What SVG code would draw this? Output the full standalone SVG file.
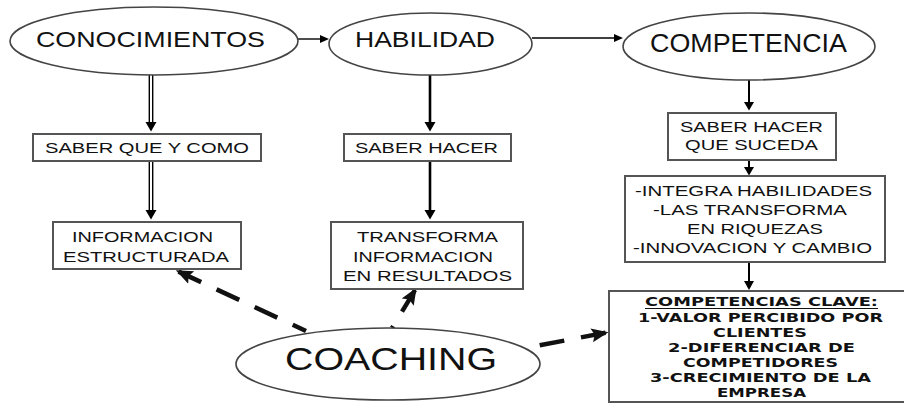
<svg xmlns="http://www.w3.org/2000/svg" width="904" height="404" viewBox="0 0 904 404">
<style>
.ell{fill:#fff;stroke:#444;stroke-width:1.6}
.box{fill:#fff;stroke:#555;stroke-width:2}
.t{font-family:"Liberation Sans",Arial,sans-serif;fill:#111;text-anchor:middle}
.big{font-size:22px}
.sm{font-size:15.5px}
.ck{font-family:"DejaVu Sans","Liberation Sans",sans-serif;font-weight:bold;font-size:13px;fill:#111;text-anchor:middle}
.ln{stroke:#000;fill:none}
.hd{fill:#000}
.dash{stroke:#111;stroke-width:4.5;fill:none;stroke-dasharray:25 17}
</style>
<defs>
<marker id="dh" markerUnits="userSpaceOnUse" markerWidth="20" markerHeight="16" refX="14" refY="7" orient="auto-start-reverse">
<path d="M0,0 L17,7 L0,14 L3,7 z" fill="#111"/>
</marker>
</defs>
<rect width="904" height="404" fill="#fff"/>

<g id="connectors">
<!-- top horizontals -->
<line class="ln" x1="298" y1="39" x2="321" y2="39" stroke-width="1.4"/>
<polygon class="hd" points="320,35 329,39 320,43"/>
<line class="ln" x1="532" y1="38" x2="615" y2="38" stroke-width="1.4"/>
<polygon class="hd" points="614,34 623,38 614,42"/>
<!-- conocimientos double arrows -->
<line class="ln" x1="149.3" y1="75" x2="149.3" y2="123" stroke-width="1.4"/>
<line class="ln" x1="152.7" y1="75" x2="152.7" y2="123" stroke-width="1.4"/>
<polygon class="hd" points="145.5,122 156.5,122 151,131.5"/>
<line class="ln" x1="149.3" y1="162" x2="149.3" y2="211" stroke-width="1.4"/>
<line class="ln" x1="152.7" y1="162" x2="152.7" y2="211" stroke-width="1.4"/>
<polygon class="hd" points="145.5,210 156.5,210 151,219.5"/>
<!-- habilidad arrows -->
<line class="ln" x1="430" y1="75" x2="430" y2="123" stroke-width="2.6"/>
<polygon class="hd" points="424.5,122 435.5,122 430,131.5"/>
<line class="ln" x1="430" y1="162" x2="430" y2="211" stroke-width="2.6"/>
<polygon class="hd" points="424.5,210 435.5,210 430,219.5"/>
<!-- competencia arrows -->
<line class="ln" x1="749" y1="80" x2="749" y2="103" stroke-width="2"/>
<polygon class="hd" points="744,102 754,102 749,110.5"/>
<line class="ln" x1="749" y1="160" x2="749" y2="168" stroke-width="2"/>
<polygon class="hd" points="744,167 754,167 749,175.5"/>
<line class="ln" x1="749" y1="262" x2="749" y2="282" stroke-width="2"/>
<polygon class="hd" points="744,281 754,281 749,290"/>
<!-- coaching dashed arrows -->
<path class="dash" d="M178.5,271.6 L306,331" marker-start="url(#dh)"/>
<path class="dash" d="M415,290.2 L392,328" marker-start="url(#dh)" stroke-dasharray="20 13"/>
<path class="dash" d="M605.5,332.7 L531,347" marker-start="url(#dh)" stroke-dasharray="35 17"/>
</g>

<g id="node-conocimientos">
<ellipse class="ell" cx="154" cy="41" rx="144" ry="34"/>
<text class="t big" x="150.5" y="47" textLength="229" lengthAdjust="spacingAndGlyphs">CONOCIMIENTOS</text>
</g>
<g id="node-habilidad">
<ellipse class="ell" cx="430.5" cy="44" rx="101.5" ry="31"/>
<text class="t big" x="425" y="47" textLength="140" lengthAdjust="spacingAndGlyphs">HABILIDAD</text>
</g>
<g id="node-competencia">
<ellipse class="ell" cx="749" cy="46.5" rx="126" ry="33.5"/>
<text class="t" x="748.5" y="52" font-size="25" textLength="197" lengthAdjust="spacingAndGlyphs">COMPETENCIA</text>
</g>
<g id="node-saber-que-y-como">
<rect class="box" x="33" y="134" width="228" height="27"/>
<text class="t sm" x="147" y="153" textLength="204" lengthAdjust="spacingAndGlyphs">SABER QUE Y COMO</text>
</g>
<g id="node-saber-hacer">
<rect class="box" x="344" y="134" width="167" height="27"/>
<text class="t sm" x="426.5" y="153" textLength="143" lengthAdjust="spacingAndGlyphs">SABER HACER</text>
</g>
<g id="node-informacion">
<rect class="box" x="53" y="222" width="188" height="47"/>
<text class="t sm" x="142.5" y="242" textLength="141" lengthAdjust="spacingAndGlyphs">INFORMACION</text>
<text class="t sm" x="146" y="262" textLength="166" lengthAdjust="spacingAndGlyphs">ESTRUCTURADA</text>
</g>
<g id="node-transforma">
<rect class="box" x="331" y="222" width="192" height="67"/>
<text class="t sm" x="427.5" y="242" textLength="141" lengthAdjust="spacingAndGlyphs">TRANSFORMA</text>
<text class="t sm" x="423" y="262" textLength="140" lengthAdjust="spacingAndGlyphs">INFORMACION</text>
<text class="t sm" x="427.5" y="281" textLength="169" lengthAdjust="spacingAndGlyphs">EN RESULTADOS</text>
</g>
<g id="node-saber-hacer-que-suceda">
<rect class="box" x="668" y="113" width="168" height="47"/>
<text class="t sm" x="751.5" y="132" textLength="143" lengthAdjust="spacingAndGlyphs">SABER HACER</text>
<text class="t sm" x="751.5" y="150" textLength="133" lengthAdjust="spacingAndGlyphs">QUE SUCEDA</text>
</g>
<g id="node-integra">
<rect class="box" x="625" y="176" width="260" height="86"/>
<text class="t sm" x="753.5" y="196" textLength="237" lengthAdjust="spacingAndGlyphs">-INTEGRA HABILIDADES</text>
<text class="t sm" x="750" y="215" textLength="194" lengthAdjust="spacingAndGlyphs">-LAS TRANSFORMA</text>
<text class="t sm" x="755" y="234" textLength="136" lengthAdjust="spacingAndGlyphs">EN RIQUEZAS</text>
<text class="t sm" x="752.5" y="253" textLength="239" lengthAdjust="spacingAndGlyphs">-INNOVACION Y CAMBIO</text>
</g>
<g id="node-competencias-clave">
<rect class="box" x="609" y="291" width="320" height="111"/>
<text class="ck" x="761.5" y="306" textLength="233" lengthAdjust="spacingAndGlyphs">COMPETENCIAS CLAVE:</text>
<line x1="645" y1="308.5" x2="878" y2="308.5" stroke="#111" stroke-width="1.2"/>
<text class="ck" x="760.5" y="322" textLength="245" lengthAdjust="spacingAndGlyphs">1-VALOR PERCIBIDO POR</text>
<text class="ck" x="760" y="337" textLength="94" lengthAdjust="spacingAndGlyphs">CLIENTES</text>
<text class="ck" x="761.5" y="352" textLength="187" lengthAdjust="spacingAndGlyphs">2-DIFERENCIAR DE</text>
<text class="ck" x="760.5" y="367" textLength="155" lengthAdjust="spacingAndGlyphs">COMPETIDORES</text>
<text class="ck" x="760.5" y="382" textLength="221" lengthAdjust="spacingAndGlyphs">3-CRECIMIENTO DE LA</text>
<text class="ck" x="761.5" y="397" textLength="89" lengthAdjust="spacingAndGlyphs">EMPRESA</text>
</g>
<g id="node-coaching">
<ellipse class="ell" cx="388" cy="364" rx="152" ry="36"/>
<text class="t" x="391" y="370" font-size="32" textLength="212" lengthAdjust="spacingAndGlyphs">COACHING</text>
</g>
</svg>
